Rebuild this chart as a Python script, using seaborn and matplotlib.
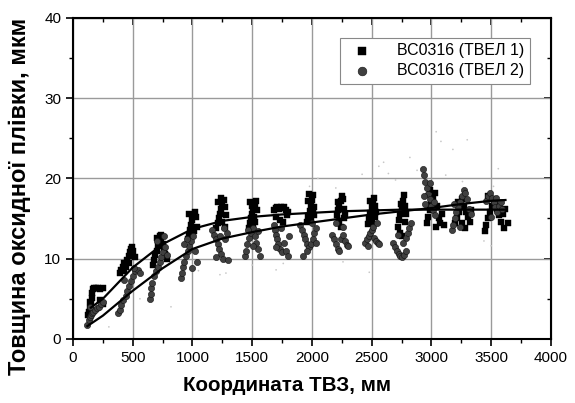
import matplotlib
matplotlib.use("Agg")
import matplotlib.pyplot as plt
import seaborn as sns
import pandas as pd

# ТВЕЛ 1 (squares), one line per axial cluster
tvel1_x = [125, 135, 145, 150, 155, 160, 165, 175, 190, 210, 230, 255, 140, 150, 230, 250,
           395, 405, 415, 425, 440, 455, 465, 475, 485, 495, 505, 515, 430, 470,
           670, 680, 690, 700, 710, 720, 730, 740, 750, 760, 770, 785, 700, 740,
           960, 970, 980, 990, 1000, 1010, 1020, 1030, 975, 995, 1015, 1035,
           1200, 1210, 1220, 1230, 1240, 1250, 1260, 1270, 1280, 1215, 1245, 1275, 1235,
           1470, 1480, 1490, 1500, 1510, 1520, 1530, 1540, 1485, 1505, 1525, 1495, 1515,
           1680, 1695, 1710, 1725, 1740, 1755, 1770, 1785, 1800, 1700, 1730, 1760, 1790,
           1960, 1970, 1980, 1990, 2000, 2010, 2020, 1975, 1995, 2015, 1965, 2005,
           2210, 2220, 2230, 2240, 2250, 2260, 2270, 2280, 2225, 2245, 2265, 2215,
           2470, 2480, 2490, 2500, 2510, 2520, 2530, 2540, 2485, 2505, 2525, 2495,
           2720, 2730, 2740, 2750, 2760, 2770, 2780, 2790, 2735, 2755, 2775, 2745,
           2960, 2970, 2985, 3000, 3015, 3030, 3045, 3060, 3075, 3090, 3105, 2990, 3040,
           3200, 3215, 3230, 3245, 3260, 3275, 3290, 3305, 3320, 3225, 3255, 3285, 3335,
           3450, 3460, 3475, 3490, 3505, 3520, 3535, 3550, 3565, 3580, 3600, 3620, 3640, 3470, 3610]
tvel1_y = [3.0, 3.4, 3.9, 4.5, 5.1, 5.7, 6.2, 6.4, 6.4, 6.3, 6.2, 6.3, 4.6, 3.6, 4.8, 4.4,
           8.2, 8.6, 9.0, 9.4, 9.0, 9.8, 10.3, 10.8, 11.2, 11.4, 11.0, 10.2, 8.4, 9.4,
           9.2, 9.8, 10.4, 11.0, 11.6, 12.2, 12.8, 12.4, 11.8, 11.2, 10.6, 10.0, 12.6, 13.0,
           12.4, 13.0, 13.6, 14.2, 14.8, 15.4, 15.8, 15.2, 15.6, 12.8, 13.4, 14.0,
           13.8, 14.4, 15.0, 15.6, 16.2, 16.8, 17.3, 16.4, 15.4, 17.0, 14.6, 14.0, 17.5,
           13.8, 14.4, 15.0, 15.6, 16.2, 16.8, 17.2, 16.0, 17.0, 14.2, 14.6, 16.6, 15.2,
           16.0, 16.3, 16.4, 16.2, 16.4, 16.3, 16.4, 16.1, 15.8, 15.2, 14.8, 14.6, 15.4,
           14.6, 15.2, 15.9, 16.6, 17.3, 17.9, 16.4, 18.1, 14.8, 15.4, 17.2, 16.0,
           15.4, 16.0, 16.6, 17.2, 17.8, 17.4, 16.2, 15.4, 14.6, 14.0, 15.0, 17.0,
           14.3, 15.0, 15.7, 16.4, 17.1, 17.6, 16.6, 15.8, 17.2, 14.6, 15.2, 15.6,
           14.0, 14.8, 15.6, 16.4, 17.2, 17.9, 16.6, 15.6, 13.2, 12.8, 14.6, 16.8,
           14.4, 15.2, 16.0, 16.8, 17.6, 18.2, 16.6, 15.0, 14.4, 15.6, 14.2, 18.6, 14.0,
           14.4, 15.0, 15.8, 16.6, 17.4, 16.6, 15.8, 15.2, 14.6, 17.0, 14.4, 13.8, 16.0,
           13.4, 14.2, 15.0, 15.8, 16.6, 17.2, 16.8, 16.2, 15.4, 14.6, 15.6, 16.2, 14.4, 17.8, 13.8]

# ТВЕЛ 2 (circles)
tvel2_x = [117, 130, 140, 150, 160, 170, 185, 200, 215, 235, 255, 145,
           380, 390, 400, 420, 440, 455, 470, 485, 500, 520, 540, 560, 430, 510,
           645, 650, 655, 665, 680, 695, 710, 725, 740, 755, 770, 785, 700, 760,
           900, 910, 920, 930, 945, 960, 975, 990, 1005, 1020, 1035, 955, 1000, 925,
           1165, 1180, 1195, 1210, 1225, 1240, 1255, 1270, 1285, 1300, 1200, 1260, 1230,
           1440, 1450, 1460, 1475, 1490, 1505, 1520, 1535, 1550, 1565, 1465, 1510, 1545,
           1680, 1690, 1700, 1710, 1720, 1735, 1750, 1765, 1780, 1800, 1810, 1740, 1700,
           1900, 1915, 1930, 1945, 1960, 1975, 1990, 2005, 2020, 2035, 1925, 1955, 2000, 2030,
           2170, 2185, 2200, 2215, 2230, 2245, 2260, 2275, 2290, 2305, 2200, 2260,
           2445, 2460, 2475, 2490, 2505, 2520, 2535, 2550, 2565, 2470, 2515, 2545,
           2680, 2695, 2710, 2725, 2740, 2755, 2770, 2785, 2800, 2815, 2830, 2720, 2760, 2790,
           2930, 2940, 2950, 2960, 2970, 2985, 3000, 3015, 3030, 2950, 2990, 2935, 3020,
           3170, 3180, 3195, 3210, 3225, 3240, 3255, 3270, 3285, 3300, 3315, 3330, 3190, 3240,
           3460, 3475, 3490, 3505, 3520, 3535, 3550, 3565, 3580, 3595, 3500, 3540]
tvel2_y = [1.7, 2.3, 2.7, 3.0, 3.2, 3.4, 3.6, 3.8, 4.0, 4.3, 4.6, 4.0,
           3.2, 3.6, 4.2, 4.8, 5.4, 6.0, 6.6, 7.2, 7.8, 8.4, 8.6, 8.2, 7.4, 8.8,
           5.0, 5.6, 6.3, 7.0, 7.8, 8.4, 9.0, 9.6, 10.2, 10.8, 11.4, 10.4, 12.2, 12.8,
           7.6, 8.2, 8.9, 9.6, 10.3, 11.0, 11.6, 12.2, 12.8, 11.0, 9.6, 12.4, 8.8, 11.8,
           13.6, 13.0, 12.4, 11.8, 11.2, 10.6, 10.0, 12.4, 13.2, 9.8, 10.2, 13.8, 12.8,
           10.3, 11.0, 11.8, 12.6, 13.2, 13.8, 12.8, 12.0, 11.2, 10.3, 13.6, 11.6, 13.4,
           14.2, 13.6, 13.0, 12.4, 11.8, 11.2, 10.8, 12.0, 11.0, 10.3, 12.8, 13.8, 11.4,
           14.2, 13.6, 13.0, 12.4, 11.8, 11.4, 11.8, 12.4, 13.2, 13.8, 10.3, 11.0, 14.4, 12.0,
           13.0, 12.4, 11.8, 11.2, 10.9, 12.4, 13.0, 12.2, 11.7, 11.6, 14.4, 14.0,
           12.0, 12.4, 12.8, 13.2, 13.6, 12.6, 12.2, 11.9, 11.8, 11.6, 14.0, 14.4,
           12.0, 11.5, 11.0, 10.6, 10.3, 10.2, 10.4, 12.6, 13.2, 13.8, 14.4, 13.0, 12.0, 11.0,
           21.2, 20.4, 19.6, 18.8, 18.0, 17.4, 16.6, 16.0, 15.4, 16.8, 19.4, 17.8, 17.0,
           13.6, 14.2, 15.0, 15.8, 16.4, 17.0, 17.8, 18.6, 18.2, 17.4, 16.2, 15.6, 16.8, 14.0,
           17.2, 17.8, 18.2, 17.6, 17.0, 16.4, 15.8, 16.6, 17.0, 16.2, 15.2, 17.6]

# faint background points
faint_x = [300, 560, 820, 1050, 1230, 1280, 1500, 1700, 1760, 1980, 2050, 2200, 2260,
           2420, 2480, 2560, 2600, 2640, 2700, 2820, 2880, 2950, 3040, 3080, 3120,
           3180, 3260, 3300, 3440, 3500, 3520, 3560]
faint_y = [1.5, 5.0, 4.0, 8.5, 8.0, 8.2, 9.2, 8.6, 9.4, 19.0, 20.0, 18.8, 9.6,
           20.5, 8.3, 21.5, 22.0, 20.6, 19.8, 22.6, 21.0, 19.2, 25.8, 24.6, 20.4,
           23.6, 19.6, 24.8, 12.2, 11.6, 19.0, 21.2]

# fitted curves
fit1_x = [150, 250, 500, 750, 1000, 1250, 1500, 1750, 2000, 2250, 2500, 2750, 3000, 3250, 3500, 3620]
fit1_y = [3.9, 5.0, 8.9, 11.8, 13.7, 14.7, 15.2, 15.5, 15.7, 15.9, 16.0, 16.1, 16.1, 16.1, 16.1, 16.1]
fit2_x = [120, 250, 500, 750, 1000, 1250, 1500, 1750, 2000, 2250, 2500, 2750, 3000, 3250, 3500, 3620]
fit2_y = [1.6, 2.9, 6.0, 8.8, 11.2, 12.5, 13.3, 14.0, 14.5, 15.0, 15.5, 15.9, 16.3, 16.8, 17.2, 17.3]

x_ticks = [0, 500, 1000, 1500, 2000, 2500, 3000, 3500, 4000]
x_minor = [250, 750, 1250, 1750, 2250, 2750, 3250, 3750]
y_ticks = [0, 10, 20, 30, 40]
y_minor = [5, 15, 25, 35]

plt.rcParams["font.family"] = ["Liberation Sans", "DejaVu Sans"]

fig = plt.figure(figsize=(5.75, 4.03), dpi=100)
ax = fig.add_axes([0.127, 0.159, 0.831, 0.797])

sns.scatterplot(x=faint_x, y=faint_y, ax=ax, marker=".", s=6, color="#c8c8c8",
                edgecolor="none", zorder=2)
df1 = pd.DataFrame({"x": tvel1_x, "y": tvel1_y})
df2 = pd.DataFrame({"x": tvel2_x, "y": tvel2_y})
sns.scatterplot(data=df1, x="x", y="y", ax=ax, marker="s", s=17, color="black",
                edgecolor="black", linewidth=0.3, label="ВС0316 (ТВЕЛ 1)", zorder=3)
sns.scatterplot(data=df2, x="x", y="y", ax=ax, marker="o", s=20, color="#404040",
                edgecolor="#111111", linewidth=0.4, label="ВС0316 (ТВЕЛ 2)", zorder=3)
sns.lineplot(x=fit1_x, y=fit1_y, ax=ax, color="black", lw=1.6, zorder=4)
sns.lineplot(x=fit2_x, y=fit2_y, ax=ax, color="black", lw=1.6, zorder=4)

ax.set_xlim(0, 4000)
ax.set_ylim(0, 40)
ax.set_xticks(x_ticks)
ax.set_yticks(y_ticks)
ax.set_xticks(x_minor, minor=True)
ax.set_yticks(y_minor, minor=True)
ax.grid(True, which="major", color="#9a9a9a", lw=1.0, zorder=0)
ax.set_axisbelow(True)
ax.tick_params(which="major", direction="out", length=5, width=1.2, labelsize=11)
ax.tick_params(which="minor", direction="out", length=3, width=1.0)
for s in ax.spines.values():
    s.set_linewidth(1.5)

top = ax.secondary_xaxis("top")
top.set_xticks(x_ticks)
top.set_xticks(x_minor, minor=True)
top.tick_params(which="major", direction="in", length=5, width=1.2, labeltop=False)
top.tick_params(which="minor", direction="in", length=3, width=1.0)
right = ax.secondary_yaxis("right")
right.set_yticks(y_ticks)
right.set_yticks(y_minor, minor=True)
right.tick_params(which="major", direction="in", length=5, width=1.2, labelright=False)
right.tick_params(which="minor", direction="in", length=3, width=1.0)

ax.set_xlabel("Координата ТВЗ, мм", fontsize=14.8, fontweight="bold")
ax.xaxis.set_label_coords(0.448, -0.115)
ax.set_ylabel("Товщина оксидної плівки, мкм", fontsize=17, fontweight="bold")
ax.yaxis.set_label_coords(-0.088, 0.445)

leg = ax.legend(loc="upper right", bbox_to_anchor=(0.956, 0.938), borderaxespad=0,
                fontsize=11.5, frameon=True, fancybox=False, edgecolor="#888888",
                framealpha=1, handletextpad=1.2, borderpad=0.35, labelspacing=0.3,
                markerscale=1.4)
leg.get_frame().set_linewidth(0.8)

fig.savefig("out.png", dpi=100)
